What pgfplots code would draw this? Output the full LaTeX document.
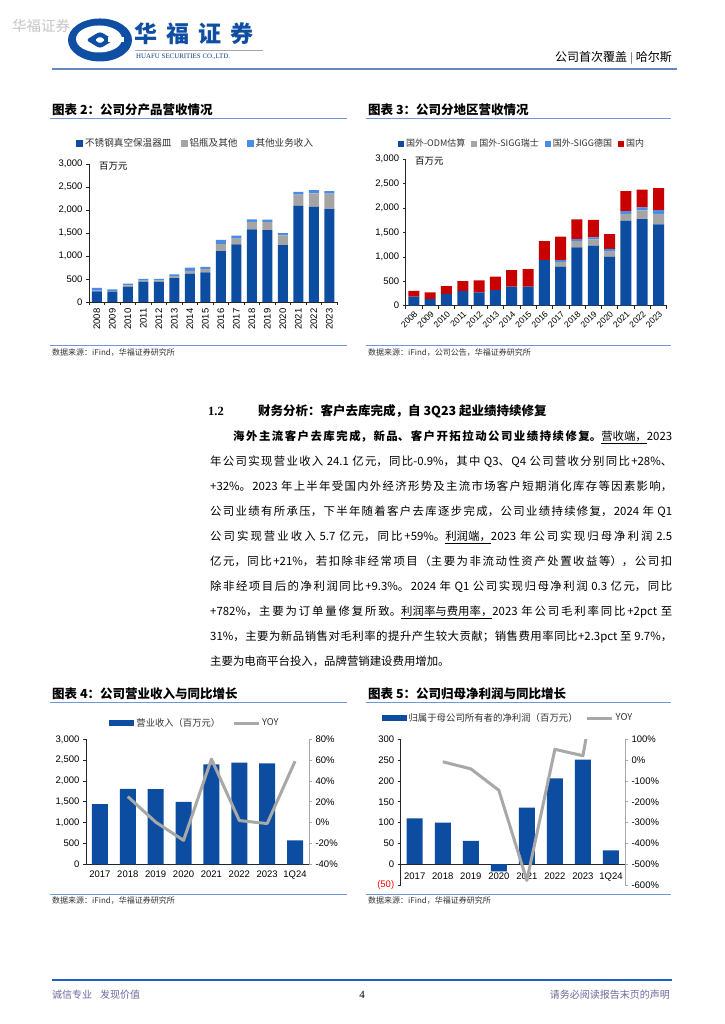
\documentclass[border=0pt]{standalone}
\usepackage{fontspec}
\setmainfont{Noto Sans CJK SC}
\newfontfamily\arial{Liberation Sans}
\newfontfamily\tnr{Liberation Serif}
\usepackage{pgfplots}
\pgfplotsset{compat=1.18}
\XeTeXlinebreaklocale "zh"
\XeTeXlinebreakskip=0pt plus 2pt

\definecolor{barblue}{HTML}{0D4DA1}
\definecolor{lightblue}{HTML}{4A8BE6}
\definecolor{bargray}{HTML}{A5A5A5}
\definecolor{barred}{HTML}{C80000}
\definecolor{yoygray}{HTML}{A8A8A8}
\definecolor{ruleblue}{HTML}{6F97D1}
\definecolor{logoblue}{HTML}{0E4EA3}
\definecolor{footblue}{HTML}{1F5FC0}
\definecolor{foottext}{HTML}{6B6B9B}

\newcommand\ticksfont{\arial\fontsize{9.5}{11}\selectfont}
\newcommand\titlefont{\bfseries\fontsize{12.5}{14}\selectfont}
\newcommand\srcfont{\fontsize{8}{9}\selectfont}

\pgfplotsset{
  excel/.style={
    scale only axis, anchor=south west,
    axis line style={black!85, line width=0.6pt, -},
    tick style={black!85, line width=0.6pt},
    tick align=outside, major tick length=3pt, minor tick length=3pt,
    tick label style={font=\ticksfont, text=black},
    legend cell align=left,
  },
  toplegend/.style={
    legend style={draw=none, fill=none, legend columns=-1, anchor=center,
      text=black!80, /tikz/every even column/.append style={column sep=4pt}},
  },
  widebarlegend/.style={legend image code/.code={\fill[##1] (0pt,-3.2pt) rectangle (25pt,3.2pt);}},
  linelegend/.style={legend image code/.code={\draw[##1] (0pt,0pt) -- (25pt,0pt);}},
}

% chart 2: product split (stainless steel / aluminium & other / other business)
\pgfplotstableread{
x steel alu other
0 230 15 60
1 225 10 40
2 327 36 37
3 435 30 35
4 435 35 35
5 520 40 40
6 617 58 70
7 645 75 45
8 1104 153 94
9 1255 125 65
10 1580 160 55
11 1560 180 50
12 1235 215 45
13 2090 245 60
14 2070 290 70
15 2020 335 55
}\productdata

% chart 3: region split
\pgfplotstableread{
x odm ch de dom
0 185 0 0 120
1 140 0 0 135
2 240 0 0 160
3 300 0 0 205
4 275 0 0 245
5 320 0 0 275
6 390 0 0 340
7 390 0 0 360
8 935 0 0 390
9 800 100 35 480
10 1195 130 40 405
11 1230 130 40 360
12 1000 110 55 300
13 1745 135 60 410
14 1775 180 60 365
15 1665 215 80 450
}\regiondata

\begin{document}
\begin{tikzpicture}[x=1pt,y=1pt]
\fill[white] (0,0) rectangle (724,1024);
\path[use as bounding box] (0,0) rectangle (724,1024);

% ---------- header ----------
\begin{scope}[shift={(100,984)}]
  \fill[logoblue] (0,0) ellipse (32pt and 21.5pt);
  \fill[white] (-1,1) ellipse (23pt and 13.5pt);
  \fill[logoblue, rounded corners=3pt] (-14,0) -- (0,8.5) -- (14,0) -- (0,-8.5) -- cycle;
  \fill[white, rounded corners=1.5pt] (-5,0) -- (0,3.5) -- (5,0) -- (0,-3.5) -- cycle;
  \fill[white] (8,-2) rectangle (24,3);
\end{scope}
\node[anchor=west, text=gray!45, font=\fontsize{14.5}{16}\selectfont, inner sep=0] at (12,998) {华福证券};
\node[anchor=west, text=logoblue, font=\bfseries\fontsize{23}{25}\selectfont, inner sep=0] at (134,990)
  {华\hspace{9pt}福\hspace{9pt}证\hspace{9pt}券};
\draw[gray!70, line width=0.8pt] (135,974) -- (263,974);
\node[anchor=west, text=logoblue!80!black, font=\tnr\fontsize{6.9}{8}\selectfont, inner sep=0] at (136,967) {HUAFU SECURITIES CO.,LTD.};
\node[anchor=east, font=\fontsize{12}{14}\selectfont, inner sep=0] at (672,966) {公司首次覆盖 $|$ 哈尔斯};
\draw[ruleblue!90!black, line width=1.5pt] (52,955) -- (677,955);

% ---------- chart 2 ----------
\node[anchor=west, font=\titlefont, inner sep=0] at (52,914) {图表 2：公司分产品营收情况};
\draw[ruleblue, line width=1.2pt] (50,905.7) -- (347,905.7);
\draw[ruleblue, line width=1.2pt] (50,678.3) -- (347,678.3);
\node[anchor=west, font=\srcfont, text=black!80, inner sep=0] at (52,671.5) {数据来源：iFind，华福证券研究所};

\begin{axis}[excel, toplegend, at={(89pt,722pt)}, width=248pt, height=138pt,
  axis x line*=bottom, axis y line*=left,
  xmin=-0.5, xmax=15.5, ymin=0, ymax=3000,
  ybar stacked, bar width=10pt,
  xtick={0,...,15},
  xticklabels={2008,2009,2010,2011,2012,2013,2014,2015,2016,2017,2018,2019,2020,2021,2022,2023},
  major x tick style={draw=none},
  minor xtick={-0.5,0.5,...,15.5},
  x tick label style={rotate=90, anchor=east},
  ytick={0,500,...,3000}, yticklabels={0,500,{1,000},{1,500},{2,000},{2,500},{3,000}},
  legend style={at={(0.43,1.15)}, font=\fontsize{9.6}{11}\selectfont,
    /tikz/every even column/.append style={column sep=7pt}},
  legend image code/.code={\fill[#1] (0pt,-3.5pt) rectangle (7pt,3.5pt);},
]
\addplot[fill=barblue, draw=none] table[x=x, y=steel] {\productdata};
\addlegendentry{不锈钢真空保温器皿}
\addplot[fill=bargray, draw=none] table[x=x, y=alu] {\productdata};
\addlegendentry{铝瓶及其他}
\addplot[fill=lightblue, draw=none] table[x=x, y=other] {\productdata};
\addlegendentry{其他业务收入}
\end{axis}
\node[anchor=west, font=\fontsize{9.4}{11}\selectfont, inner sep=0] at (99,858) {百万元};

% ---------- chart 3 ----------
\node[anchor=west, font=\titlefont, inner sep=0] at (368,914) {图表 3：公司分地区营收情况};
\draw[ruleblue, line width=1.2pt] (366,905.7) -- (671,905.7);
\draw[ruleblue, line width=1.2pt] (366,678.3) -- (671,678.3);
\node[anchor=west, font=\srcfont, text=black!80, inner sep=0] at (368,671.5) {数据来源：iFind，公司公告，华福证券研究所};

\begin{axis}[excel, toplegend, at={(405.7pt,718.3pt)}, width=261pt, height=146.4pt,
  axis x line*=bottom, axis y line*=left,
  xmin=-0.5, xmax=15.5, ymin=0, ymax=3000,
  ybar stacked, bar width=11pt,
  xtick={0,...,15},
  xticklabels={2008,2009,2010,2011,2012,2013,2014,2015,2016,2017,2018,2019,2020,2021,2022,2023},
  major x tick style={draw=none},
  minor xtick={-0.5,0.5,...,15.5},
  x tick label style={rotate=45, anchor=north east, inner sep=1pt,
    font=\arial\fontsize{8.6}{10}\selectfont},
  ytick={0,500,...,3000}, yticklabels={0,500,{1,000},{1,500},{2,000},{2,500},{3,000}},
  legend style={at={(0.446,1.105)}, font=\fontsize{9}{10}\selectfont,
    /tikz/every even column/.append style={column sep=4pt}},
  legend image code/.code={\fill[#1] (0pt,-3pt) rectangle (6pt,3pt);},
]
\addplot[fill=barblue, draw=none] table[x=x, y=odm] {\regiondata};
\addlegendentry{国外-ODM估算}
\addplot[fill=bargray, draw=none] table[x=x, y=ch] {\regiondata};
\addlegendentry{国外-SIGG瑞士}
\addplot[fill=lightblue, draw=none] table[x=x, y=de] {\regiondata};
\addlegendentry{国外-SIGG德国}
\addplot[fill=barred, draw=none] table[x=x, y=dom] {\regiondata};
\addlegendentry{国内}
\end{axis}
\node[anchor=west, font=\fontsize{9.4}{11}\selectfont, inner sep=0] at (415,862.3) {百万元};

% ---------- text ----------
\node[anchor=west, font=\tnr\bfseries\fontsize{12.5}{14}\selectfont, inner sep=0] at (208,613) {1.2};
\node[anchor=west, font=\titlefont, inner sep=0] at (258,613) {财务分析：客户去库完成，自 3Q23 起业绩持续修复};
\node[anchor=north west, inner sep=0pt, text width=462pt, align=justify,
      font=\fontsize{11.4}{25}\selectfont] at (210,594) {\tolerance=9999\emergencystretch=0pt
\hspace*{23pt}{\bfseries 海外主流客户去库完成，新品、客户开拓拉动公司业绩持续修复。}\underline{营收端，}2023\linebreak
年公司实现营业收入 24.1 亿元，同比-0.9\%，其中 Q3、Q4 公司营收分别同比+28\%、\linebreak
+32\%。2023 年上半年受国内外经济形势及主流市场客户短期消化库存等因素影响，\linebreak
公司业绩有所承压，下半年随着客户去库逐步完成，公司业绩持续修复，2024 年 Q1\linebreak
公司实现营业收入 5.7 亿元，同比+59\%。\underline{利润端，}2023 年公司实现归母净利润 2.5\linebreak
亿元，同比+21\%，若扣除非经常项目（主要为非流动性资产处置收益等），公司扣\linebreak
除非经项目后的净利润同比+9.3\%。2024 年 Q1 公司实现归母净利润 0.3 亿元，同比\linebreak
+782\%，主要为订单量修复所致。\underline{利润率与费用率，}2023 年公司毛利率同比+2pct 至\linebreak
31\%，主要为新品销售对毛利率的提升产生较大贡献；销售费用率同比+2.3pct 至 9.7\%，\linebreak
主要为电商平台投入，品牌营销建设费用增加。};

% ---------- chart 4 ----------
\node[anchor=west, font=\titlefont, inner sep=0] at (52,330) {图表 4：公司营业收入与同比增长};
\draw[ruleblue, line width=1.2pt] (50,321.5) -- (347,321.5);
\draw[ruleblue, line width=1.2pt] (50,129.5) -- (347,129.5);
\node[anchor=west, font=\srcfont, text=black!80, inner sep=0] at (52,123) {数据来源：iFind，华福证券研究所};

\begin{axis}[excel, at={(86pt,159.7pt)}, width=223pt, height=125pt,
  axis x line*=bottom, axis y line*=left,
  xmin=-0.5, xmax=7.5, ymin=0, ymax=3000,
  ybar, bar width=16pt,
  xtick={0,...,7}, xticklabels={2017,2018,2019,2020,2021,2022,2023,1Q24},
  major x tick style={draw=none},
  ytick={0,500,...,3000}, yticklabels={0,500,{1,000},{1,500},{2,000},{2,500},{3,000}},
]
\addplot[fill=barblue, draw=none] coordinates {(0,1445) (1,1810) (2,1805) (3,1500) (4,2400) (5,2440) (6,2420) (7,575)};
\end{axis}
\begin{axis}[excel, toplegend, at={(86pt,159.7pt)}, width=223pt, height=125pt,
  axis x line=none, axis y line*=right,
  axis line style={yoygray}, tick style={yoygray},
  xmin=-0.5, xmax=7.5, ymin=-40, ymax=80,
  ytick={-40,-20,...,80}, yticklabels={-40\%,-20\%,0\%,20\%,40\%,60\%,80\%},
  legend style={at={(0.489,1.13)}, font=\fontsize{9.3}{11}\selectfont,
    /tikz/every even column/.append style={column sep=10pt}},
]
\addlegendimage{fill=barblue, draw=none, widebarlegend}
\addlegendentry{营业收入（百万元）}
\addplot[yoygray, line width=3pt, mark=none, line join=round, linelegend]
  coordinates {(1,25) (2,0.5) (3,-17) (4,61) (5,2) (6,-0.9) (7,59)};
\addlegendentry{YOY}
\end{axis}

% ---------- chart 5 ----------
\node[anchor=west, font=\titlefont, inner sep=0] at (368,330) {图表 5：公司归母净利润与同比增长};
\draw[ruleblue, line width=1.2pt] (366,321.5) -- (671,321.5);
\draw[ruleblue, line width=1.2pt] (366,129.5) -- (671,129.5);
\node[anchor=west, font=\srcfont, text=black!80, inner sep=0] at (368,123) {数据来源：iFind，华福证券研究所};

\begin{axis}[excel, at={(400.7pt,139pt)}, width=224.3pt, height=145.7pt,
  axis x line*=bottom, axis y line*=left, x axis line style={draw=none},
  xmin=-0.5, xmax=7.5, ymin=-50, ymax=300,
  ybar, bar width=16pt,
  xtick={0,...,7}, xticklabels={2017,2018,2019,2020,2021,2022,2023,1Q24},
  major x tick style={draw=none},
  x tick label style={yshift=19pt},
  ytick={-50,0,...,300}, yticklabels={{\textcolor{red}{(50)}},0,50,100,150,200,250,300},
  extra y ticks={0}, extra y tick labels={},
  extra y tick style={grid=major, major grid style={black!85, line width=0.6pt}},
]
\addplot[fill=barblue, draw=none] coordinates {(0,110) (1,100) (2,56) (3,-17) (4,136) (5,206) (6,251) (7,33)};
\end{axis}
\begin{axis}[excel, toplegend, at={(400.7pt,139pt)}, width=224.3pt, height=145.7pt,
  axis x line=none, axis y line*=right,
  axis line style={yoygray}, tick style={yoygray},
  xmin=-0.5, xmax=7.5, ymin=-600, ymax=100,
  ytick={-600,-500,...,100},
  yticklabels={-600\%,-500\%,-400\%,-300\%,-200\%,-100\%,0\%,100\%},
  legend style={at={(0.478,1.146)}, font=\fontsize{9.4}{11}\selectfont,
    /tikz/every even column/.append style={column sep=6pt}},
]
\addlegendimage{fill=barblue, draw=none, widebarlegend}
\addlegendentry{归属于母公司所有者的净利润（百万元）}
\addplot[yoygray, line width=3pt, mark=none, line join=round, linelegend]
  coordinates {(1,-8) (2,-42) (3,-145) (4,-578) (5,52) (6,21) (7,782)};
\addlegendentry{YOY}
\end{axis}

% ---------- footer ----------
\draw[footblue, line width=2pt] (52,44) -- (672,44);
\node[anchor=west, text=foottext, font=\fontsize{10}{12}\selectfont, inner sep=0] at (52,29) {诚信专业\hspace{8pt}发现价值};
\node[font=\tnr\fontsize{11}{12}\selectfont, inner sep=0] at (362,29) {4};
\node[anchor=east, text=foottext, font=\fontsize{10}{12}\selectfont, inner sep=0] at (670,29) {请务必阅读报告末页的声明};
\end{tikzpicture}
\end{document}
